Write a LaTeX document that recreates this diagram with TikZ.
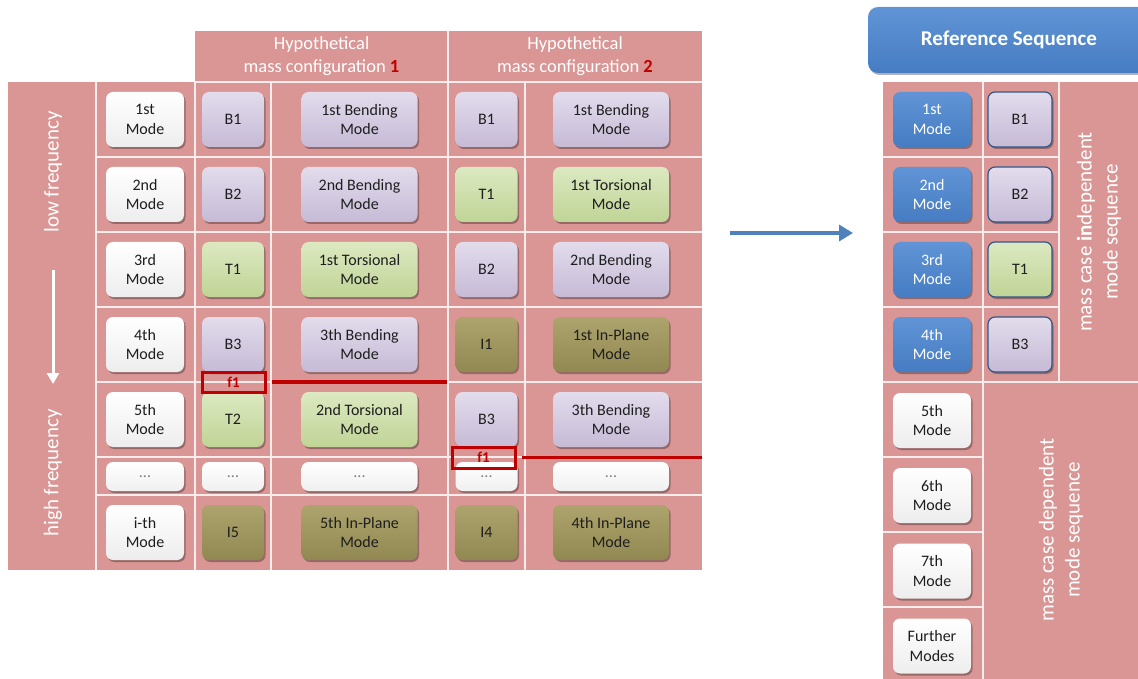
\documentclass[tikz,border=0pt]{standalone}
\usepackage{fontspec}
\setmainfont{Carlito}
\usetikzlibrary{arrows.meta,shadows}
\definecolor{pk}{RGB}{217,150,148}
\definecolor{gridc}{RGB}{248,236,236}
\definecolor{lav}{RGB}{198,186,214}
\definecolor{lavT}{RGB}{226,220,236}
\definecolor{grn}{RGB}{192,212,150}
\definecolor{grnT}{RGB}{220,233,193}
\definecolor{olv}{RGB}{146,136,82}
\definecolor{olvT}{RGB}{172,163,110}
\definecolor{blu}{RGB}{70,124,194}
\definecolor{bluT}{RGB}{96,148,214}
\definecolor{hdred}{RGB}{192,0,0}
\definecolor{txt}{RGB}{30,30,30}
\definecolor{arrblue}{RGB}{79,129,189}
\newcommand\bxf{\fontsize{16}{19.5}\selectfont}
\newcommand\hdf{\fontsize{18.5}{23}\selectfont}
\newcommand\frf{\fontsize{21}{24}\selectfont}
\newcommand\lbf{\fontsize{21}{26}\selectfont}
\newcommand\rsf{\fontsize{21}{25}\selectfont\bfseries}
\newcommand\fof{\fontsize{15}{16}\selectfont\bfseries}
\tikzset{
  gridl/.style={draw=gridc,line width=1.1pt},
  bx/.style={rounded corners=7pt,align=center,inner sep=0pt,font=\bxf,text=txt,
    minimum height=55pt,drop shadow={shadow xshift=1.5pt,shadow yshift=-2pt,opacity=.3,fill=black}},
  modebx/.style={bx,minimum width=78pt},
  codebx/.style={bx,minimum width=62pt},
  namebx/.style={bx,minimum width=116pt},
  dotbx/.style={minimum height=29pt,top color=white,bottom color=gray!12,text=gray},
  wh/.style={top color=white,bottom color=gray!14},
  lv/.style={top color=lavT,bottom color=lav},
  gr/.style={top color=grnT,bottom color=grn},
  ol/.style={top color=olvT,bottom color=olv},
  bl/.style={top color=bluT,bottom color=blu,text=white},
  rbord/.style={draw=blu!70!black,line width=1.2pt},
  fbox/.style={draw=hdred,line width=3pt,minimum width=63pt,minimum height=20pt,inner sep=0pt,font=\fof,text=hdred},
  redline/.style={draw=hdred,line width=3.5pt},
  hdtext/.style={align=center,font=\hdf,text=white},
  vlabel/.style={rotate=90,align=center,text=white}
}
\begin{document}
\begin{tikzpicture}[x=1pt,y=-1pt]
\useasboundingbox (0,0) rectangle (1138,679);
% backgrounds
\fill[pk] (195,31) rectangle (702,82);
\fill[pk] (8,82) rectangle (702,570);
\fill[pk] (883,82) rectangle (1138,679);
% left grid
\draw[gridl] (448,31) -- (448,82);
\draw[gridl] (195,82) -- (702,82);
\foreach \x in {96,195,271,448,525} \draw[gridl] (\x,82) -- (\x,570);
\foreach \y in {157,232,307,382,457,495} \draw[gridl] (96,\y) -- (702,\y);
% right grid
\draw[gridl] (983,82) -- (983,679);
\draw[gridl] (1059,82) -- (1059,382);
\foreach \y in {157,232,307} \draw[gridl] (883,\y) -- (1059,\y);
\draw[gridl] (883,382) -- (1138,382);
\foreach \y in {457,532,607} \draw[gridl] (883,\y) -- (983,\y);
% headers
\node[hdtext] (h1) at (321.5,56) {Hypothetical\\mass configuration \textcolor{hdred}{\textbf{1}}};
\node[hdtext] (h2) at (575,56) {Hypothetical\\mass configuration \textcolor{hdred}{\textbf{2}}};
% frequency column
\node[vlabel,font=\frf] (lowf) at (53,172) {low frequency};
\node[vlabel,font=\frf] (highf) at (53,473) {high frequency};
\coordinate (fa) at (53,270);
\coordinate (fb) at (53,384);
\draw[white,line width=3pt,-{Triangle[length=11pt,width=12pt]}] (fa) -- (fb);
% row 1
\node[modebx,wh] (m1) at (145,119.5) {1st\\Mode};
\node[codebx,lv] (a1) at (233,119.5) {B1};
\node[namebx,lv] (an1) at (359.5,119.5) {1st Bending\\Mode};
\node[codebx,lv] (b1) at (486.5,119.5) {B1};
\node[namebx,lv] (bn1) at (611,119.5) {1st Bending\\Mode};
% row 2
\node[modebx,wh] (m2) at (145,194.5) {2nd\\Mode};
\node[codebx,lv] (a2) at (233,194.5) {B2};
\node[namebx,lv] (an2) at (359.5,194.5) {2nd Bending\\Mode};
\node[codebx,gr] (b2) at (486.5,194.5) {T1};
\node[namebx,gr] (bn2) at (611,194.5) {1st Torsional\\Mode};
% row 3
\node[modebx,wh] (m3) at (145,269.5) {3rd\\Mode};
\node[codebx,gr] (a3) at (233,269.5) {T1};
\node[namebx,gr] (an3) at (359.5,269.5) {1st Torsional\\Mode};
\node[codebx,lv] (b3) at (486.5,269.5) {B2};
\node[namebx,lv] (bn3) at (611,269.5) {2nd Bending\\Mode};
% row 4
\node[modebx,wh] (m4) at (145,344.5) {4th\\Mode};
\node[codebx,lv] (a4) at (233,344.5) {B3};
\node[namebx,lv] (an4) at (359.5,344.5) {3th Bending\\Mode};
\node[codebx,ol] (b4) at (486.5,344.5) {I1};
\node[namebx,ol] (bn4) at (611,344.5) {1st In-Plane\\Mode};
% row 5
\node[modebx,wh] (m5) at (145,419.5) {5th\\Mode};
\node[codebx,gr] (a5) at (233,419.5) {T2};
\node[namebx,gr] (an5) at (359.5,419.5) {2nd Torsional\\Mode};
\node[codebx,lv] (b5) at (486.5,419.5) {B3};
\node[namebx,lv] (bn5) at (611,419.5) {3th Bending\\Mode};
% row 6 (dots)
\node[modebx,dotbx] (m6) at (145,476.5) {...};
\node[codebx,dotbx] (a6) at (233,476.5) {...};
\node[namebx,dotbx] (an6) at (359.5,476.5) {...};
\node[codebx,dotbx] (b6) at (486.5,476.5) {...};
\node[namebx,dotbx] (bn6) at (611,476.5) {...};
% row 7
\node[modebx,wh] (m7) at (145,532.5) {i-th\\Mode};
\node[codebx,ol] (a7) at (233,532.5) {I5};
\node[namebx,ol] (an7) at (359.5,532.5) {5th In-Plane\\Mode};
\node[codebx,ol] (b7) at (486.5,532.5) {I4};
\node[namebx,ol] (bn7) at (611,532.5) {4th In-Plane\\Mode};
% f1 markers
\node[fbox] (f1a) at (233.5,382) {f1};
\coordinate (r1e) at (447,382);
\draw[redline] ([xshift=5.5pt]f1a.east) -- (r1e);
\node[fbox,minimum height=21pt] (f1b) at (483.5,457.5) {f1};
\coordinate (r2e) at (702,457.5);
\draw[redline] ([xshift=5.5pt]f1b.east) -- (r2e);
% big arrow
\coordinate (ba) at (730,233);
\coordinate (bb) at (853,233);
\draw[arrblue,line width=4pt,-{Triangle[length=14pt,width=16pt]}] (ba) -- (bb);
% reference sequence header
\begin{scope}
\clip (0,0) rectangle (1138,679);
\node[rounded corners=10pt,top color=bluT,bottom color=blu,minimum width=282pt,minimum height=66pt,
  text=white,font=\rsf,drop shadow={shadow xshift=1.5pt,shadow yshift=-2pt,opacity=.3,fill=black}] (ref) at (1009,40) {Reference Sequence};
\end{scope}
% right side
\node[modebx,bl] (rm1) at (932,119.5) {1st\\Mode};
\node[modebx,bl] (rm2) at (932,194.5) {2nd\\Mode};
\node[modebx,bl] (rm3) at (932,269.5) {3rd\\Mode};
\node[modebx,bl] (rm4) at (932,344.5) {4th\\Mode};
\node[codebx,lv,rbord,minimum width=64pt] (rc1) at (1020,119.5) {B1};
\node[codebx,lv,rbord,minimum width=64pt] (rc2) at (1020,194.5) {B2};
\node[codebx,gr,rbord,minimum width=64pt] (rc3) at (1020,269.5) {T1};
\node[codebx,lv,rbord,minimum width=64pt] (rc4) at (1020,344.5) {B3};
\node[modebx,wh] (rm5) at (932,420.5) {5th\\Mode};
\node[modebx,wh] (rm6) at (932,495.5) {6th\\Mode};
\node[modebx,wh] (rm7) at (932,571) {7th\\Mode};
\node[modebx,wh] (rm8) at (932,646) {Further\\Modes};
\node[vlabel,font=\lbf] (indep) at (1099,232) {mass case \textbf{in}dependent\\mode sequence};
\node[vlabel,font=\lbf] (dep) at (1061,530) {mass case dependent\\mode sequence};
\end{tikzpicture}
\end{document}
